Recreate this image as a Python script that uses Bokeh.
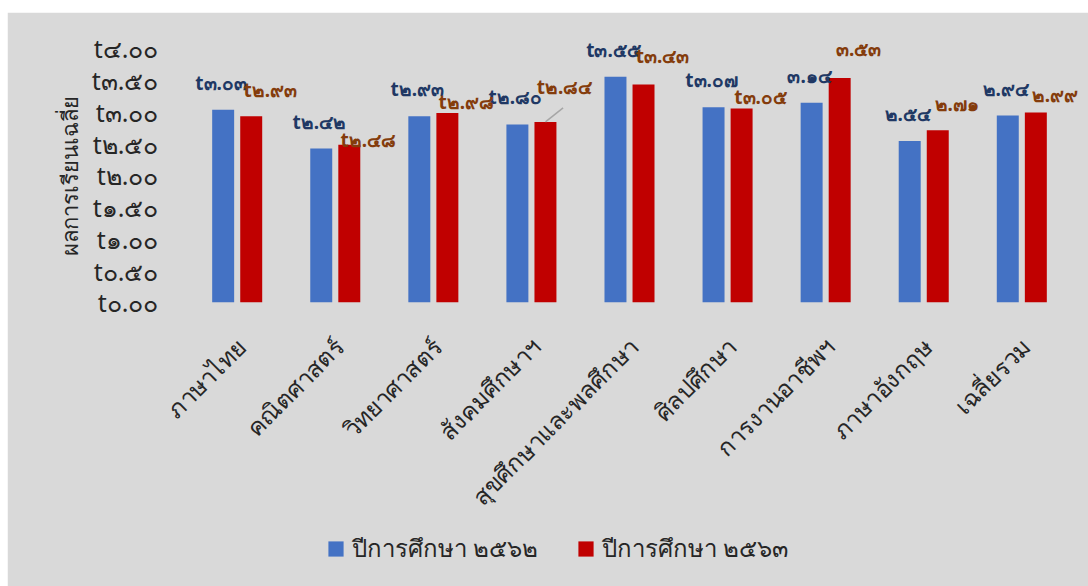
import math
from bokeh.plotting import figure
from bokeh.models import ColumnDataSource, FixedTicker, Legend, LegendItem, Title
from bokeh.transform import dodge
from bokeh.core.properties import value
from bokeh.embed import file_html
from bokeh.resources import INLINE

# ---------------- data ----------------
categories = ["ภาษาไทย", "คณิตศาสตร์", "วิทยาศาสตร์", "สังคมศึกษาฯ",
              "สุขศึกษาและพลศึกษา", "ศิลปศึกษา", "การงานอาชีพฯ",
              "ภาษาอังกฤษ", "เฉลี่ยรวม"]
year_2562 = [3.03, 2.42, 2.93, 2.80, 3.55, 3.07, 3.14, 2.54, 2.94]
year_2563 = [2.93, 2.48, 2.98, 2.84, 3.43, 3.05, 3.53, 2.71, 2.99]
label_prefix = ["t", "t", "t", "t", "t", "t", "", "", ""]
series_names = ["ปีการศึกษา ๒๕๖๒", "ปีการศึกษา ๒๕๖๓"]
y_ticks = [0.0, 0.5, 1.0, 1.5, 2.0, 2.5, 3.0, 3.5, 4.0]
y_title = "ผลการเรียนเฉลี่ย"

# label nudges (pixels, upward) for the red-series labels, as placed in the original
red_label_lift = [16, -5, 1, 25, 18, 2, 19, 16, 7]

THAI = str.maketrans("0123456789", "๐๑๒๓๔๕๖๗๘๙")
def thai(v):
    return f"{v:.2f}".translate(THAI)

FONT = "Noto Sans"
BLUE = "#4472C4"
RED = "#C00000"
BG = "#D9D9D9"
TXT = "#262626"

# layout: the plotting frame also covers the area under the value axis,
# so that category names and legend can sit inside it
FRAME_H = 566
PX_PER_UNIT = 63.5
Y_END = 4.5
y_start = Y_END - FRAME_H / PX_PER_UNIT

src = ColumnDataSource(dict(
    cat=categories,
    zero=[0.0] * len(categories),
    v62=year_2562,
    v63=year_2563,
    l62=[p_ + thai(v) for p_, v in zip(label_prefix, year_2562)],
))

p = figure(x_range=categories, y_range=(y_start, Y_END),
           frame_width=918, frame_height=FRAME_H,
           x_axis_location=None,
           output_backend="svg", toolbar_location=None,
           background_fill_color=BG, border_fill_color=BG,
           min_border_left=163, min_border_right=0, min_border_top=4,
           min_border_bottom=4)
p.margin = (12, 0, 0, 7)
p.x_range.range_padding = 0.18
p.x_range.range_padding_units = "absolute"
p.outline_line_color = BG
p.outline_line_width = 2
p.grid.grid_line_color = None

off = 0.143
bw = 0.224
r1 = p.vbar(x=dodge("cat", -off, range=p.x_range), top="v62", width=bw,
            source=src, fill_color=BLUE, line_color=None)
r2 = p.vbar(x=dodge("cat", off, range=p.x_range), top="v63", width=bw,
            source=src, fill_color=RED, line_color=None)

# category names under the bars (rotated 45 degrees)
p.text(x="cat", y="zero", text="cat", source=src, angle=math.pi / 4,
       text_align="right", text_baseline="middle", x_offset=4, y_offset=40,
       text_font=value(FONT), text_font_size="24px", text_color=TXT)

# data labels
p.text(x=dodge("cat", -off, range=p.x_range), y="v62", text="l62", source=src,
       text_align="center", text_baseline="bottom", x_offset=-2, y_offset=-14,
       text_font=value(FONT), text_font_size="19px", text_font_style="bold",
       text_color="#203864")
for i, c in enumerate(categories):
    s = ColumnDataSource(dict(cat=[c], v=[year_2563[i]],
                              t=[label_prefix[i] + thai(year_2563[i])]))
    p.text(x=dodge("cat", off, range=p.x_range), y="v", text="t", source=s,
           text_align="center", text_baseline="bottom", x_offset=19,
           y_offset=-(red_label_lift[i]) + 3,
           text_font=value(FONT), text_font_size="19px", text_font_style="bold",
           text_color="#843C0C")

# leader line for the social-studies red label
li = 3
ls = ColumnDataSource(dict(cat=[categories[li]], y0=[year_2563[li]],
                           y1=[year_2563[li] + 0.22]))
p.segment(x0=dodge("cat", off, range=p.x_range), y0="y0",
          x1=dodge("cat", off + 0.18, range=p.x_range), y1="y1",
          source=ls, line_color="#A6A6A6", line_width=1.5)

# value axis
p.yaxis.ticker = FixedTicker(ticks=y_ticks)
p.yaxis.major_label_overrides = {t: "t" + thai(t) for t in y_ticks}
p.yaxis.axis_line_color = None
p.yaxis.major_tick_line_color = None
p.yaxis.minor_tick_line_color = None
p.yaxis.major_tick_out = 0
p.yaxis.major_label_text_font = FONT
p.yaxis.major_label_text_color = TXT
p.yaxis.major_label_text_font_size = "25px"
p.yaxis.major_label_standoff = 12

# axis title (reads bottom to top, its end near the top of the axis)
p.add_layout(Title(text=y_title, align="right", offset=79,
                   text_font=FONT, text_font_size="22px",
                   text_font_style="normal", text_color=TXT, standoff=10),
             "left")

legend = Legend(items=[LegendItem(label=series_names[0], renderers=[r1]),
                       LegendItem(label=series_names[1], renderers=[r2])],
                orientation="horizontal", location=(156, 14),
                background_fill_alpha=0, border_line_color=None,
                label_text_font=FONT, label_text_font_size="24px",
                label_text_color=TXT, glyph_width=19, glyph_height=19,
                spacing=38, label_standoff=7, padding=0, margin=0)
p.add_layout(legend, "center")

open("out.html", "w").write(file_html(p, INLINE))
